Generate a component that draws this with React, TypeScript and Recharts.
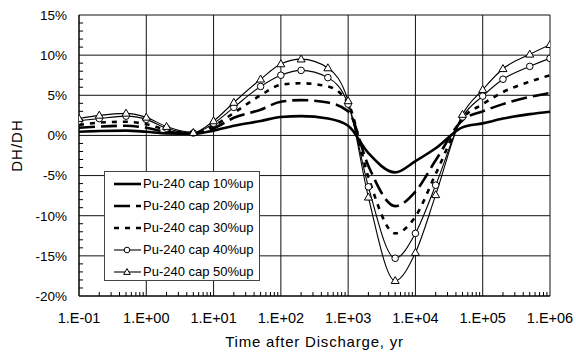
import React from 'react';
import { LineChart, Line, XAxis, YAxis, CartesianGrid, Label, ReferenceLine } from 'recharts';

// time after discharge, yr (points of the Excel series)
const times = [0.1, 0.2, 0.5, 1, 2, 5, 10, 20, 50, 100, 200, 500, 1000, 2000, 5000, 10000, 20000, 50000, 100000, 200000, 500000, 1000000];

// DH/DH change, %
const cap10 = [0.45, 0.55, 0.6, 0.45, 0.25, 0.2, 0.6, 1.2, 1.8, 2.3, 2.4, 2.1, 1.2, -2.2, -4.6, -3.2, -1.6, 1.0, 1.5, 2.1, 2.65, 2.95];
const cap20 = [0.95, 1.1, 1.2, 0.95, 0.45, 0.25, 0.9, 2.2, 3.2, 4.2, 4.4, 4.1, 3.0, -3.8, -8.8, -7.0, -3.1, 1.9, 3.0, 3.9, 4.8, 5.3];
const cap30 = [1.3, 1.6, 1.7, 1.4, 0.7, 0.3, 1.2, 2.8, 5.0, 6.3, 6.5, 6.1, 4.0, -5.2, -12.2, -10.1, -4.8, 2.1, 3.9, 5.4, 6.7, 7.5];
const cap40 = [1.8, 2.1, 2.4, 2.0, 0.9, 0.3, 1.5, 3.5, 6.1, 7.5, 8.1, 7.2, 3.9, -6.4, -15.3, -12.2, -6.2, 2.3, 4.9, 7.0, 8.6, 9.6];
const cap50 = [2.1, 2.5, 2.75, 2.25, 1.1, 0.35, 1.8, 4.1, 7.0, 8.9, 9.5, 8.4, 4.3, -7.7, -18.1, -14.6, -7.4, 2.6, 5.7, 8.3, 10.1, 11.3];

const xTicks = [0.1, 1, 10, 100, 1000, 10000, 100000, 1000000];
const xTickLabels = ['1.E-01', '1.E+00', '1.E+01', '1.E+02', '1.E+03', '1.E+04', '1.E+05', '1.E+06'];
const yTicks = [-20, -15, -10, -5, 0, 5, 10, 15];
const yMinorTicks = [-19, -18, -17, -16, -14, -13, -12, -11, -9, -8, -7, -6, -4, -3, -2, -1, 1, 2, 3, 4, 6, 7, 8, 9, 11, 12, 13, 14];

// log minor ticks 2..9 in every decade
const xMinorTicks: number[] = [];
for (let d = 0.1; d < 1e6; d *= 10) {
  for (let m = 2; m <= 9; m++) xMinorTicks.push(+(d * m).toPrecision(3));
}

const data = times.map((t, i) => ({
  t,
  cap10: cap10[i],
  cap20: cap20[i],
  cap30: cap30[i],
  cap40: cap40[i],
  cap50: cap50[i],
}));

const font = '"Liberation Sans", Arial, sans-serif';

const Triangle = (props: any) => {
  const { cx, cy, index } = props;
  if (cx == null || cy == null) return <g key={`tri-${index}`} />;
  return (
    <path
      key={`tri-${index}`}
      d={`M${cx},${cy - 4.2}L${cx + 4},${cy + 2.8}L${cx - 4},${cy + 2.8}Z`}
      fill="#fff"
      stroke="#000"
      strokeWidth={1}
    />
  );
};

const series = [
  { key: 'cap10', name: 'Pu-240 cap 10%up', width: 2.6, dash: undefined, marker: 'none' },
  { key: 'cap20', name: 'Pu-240 cap 20%up', width: 2.6, dash: '16 6', marker: 'none' },
  { key: 'cap30', name: 'Pu-240 cap 30%up', width: 2.6, dash: '5 6', marker: 'none' },
  { key: 'cap40', name: 'Pu-240 cap 40%up', width: 1.1, dash: undefined, marker: 'circle' },
  { key: 'cap50', name: 'Pu-240 cap 50%up', width: 1.1, dash: undefined, marker: 'triangle' },
];

const LegendBox = () => (
  <div
    style={{
      position: 'absolute',
      left: 104,
      top: 171,
      width: 154,
      height: 108,
      border: '1px solid #444',
      background: '#fff',
      fontFamily: font,
      fontSize: 13,
    }}
  >
    {series.map((s, i) => (
      <div key={s.key} style={{ position: 'absolute', left: 0, top: 1 + i * 22, height: 22, width: 154 }}>
        <svg width={30} height={22} style={{ position: 'absolute', left: 8, top: 0 }}>
          <line x1={1} x2={28} y1={11} y2={11} stroke="#000" strokeWidth={s.width} strokeDasharray={s.dash} />
          {s.marker === 'circle' && <circle cx={14} cy={11} r={2.8} fill="#fff" stroke="#000" strokeWidth={1} />}
          {s.marker === 'triangle' && <path d="M14,7.6L17.3,13.4L10.7,13.4Z" fill="#fff" stroke="#000" strokeWidth={1} />}
        </svg>
        <span style={{ position: 'absolute', left: 38, top: 3, lineHeight: '16px', whiteSpace: 'nowrap' }}>{s.name}</span>
      </div>
    ))}
  </div>
);

export default function App() {
  return (
    <div style={{ position: 'absolute', left: 0, top: 0, width: 576, height: 353, background: '#fff' }}>
      <LineChart width={576} height={353} data={data} margin={{ top: 15, right: 26, left: 0, bottom: 0 }}>
        <CartesianGrid stroke="#111" strokeWidth={1} />
        <XAxis
          dataKey="t"
          type="number"
          scale="log"
          domain={[0.1, 1000000]}
          allowDataOverflow
          ticks={xTicks}
          tickFormatter={(v: number) => xTickLabels[xTicks.indexOf(v)] ?? ''}
          tickLine={false}
          tickMargin={11}
          axisLine={{ stroke: '#000' }}
          tick={{ fill: '#000', fontSize: 14.5, fontFamily: font }}
          height={57}
        >
          <Label
            value="Time after Discharge, yr"
            position="insideBottom"
            offset={6}
            style={{ fill: '#000', fontSize: 15, fontFamily: font, letterSpacing: 0.8 }}
          />
        </XAxis>
        <YAxis
          type="number"
          domain={[-20, 15]}
          allowDataOverflow
          ticks={yTicks}
          tickFormatter={(v: number) => `${v}%`}
          tickLine={false}
          tickMargin={6}
          axisLine={{ stroke: '#000' }}
          tick={{ fill: '#000', fontSize: 13.5, fontFamily: font }}
          width={79}
        >
          <Label
            value="DH/DH"
            angle={-90}
            position="insideLeft"
            offset={17}
            dy={-10}
            style={{ fill: '#000', fontSize: 15, fontFamily: font, letterSpacing: 1, textAnchor: 'middle' }}
          />
        </YAxis>
        {xMinorTicks.map((m) => (
          <ReferenceLine
            key={`xm-${m}`}
            segment={[{ x: m, y: -20 }, { x: m, y: -19.5 }]}
            stroke="#000"
            strokeWidth={1}
          />
        ))}
        {yMinorTicks.map((v) => (
          <ReferenceLine
            key={`ym-${v}`}
            segment={[{ x: 0.1, y: v }, { x: 0.115, y: v }]}
            stroke="#000"
            strokeWidth={1}
          />
        ))}
        {series.map((s) => (
          <Line
            key={s.key}
            dataKey={s.key}
            name={s.name}
            type="monotone"
            stroke="#000"
            strokeWidth={s.width}
            strokeDasharray={s.dash}
            dot={
              s.marker === 'circle'
                ? { r: 3.3, fill: '#fff', stroke: '#000', strokeWidth: 1 }
                : s.marker === 'triangle'
                ? Triangle
                : false
            }
            activeDot={false}
            isAnimationActive={false}
          />
        ))}
      </LineChart>
      <LegendBox />
    </div>
  );
}
